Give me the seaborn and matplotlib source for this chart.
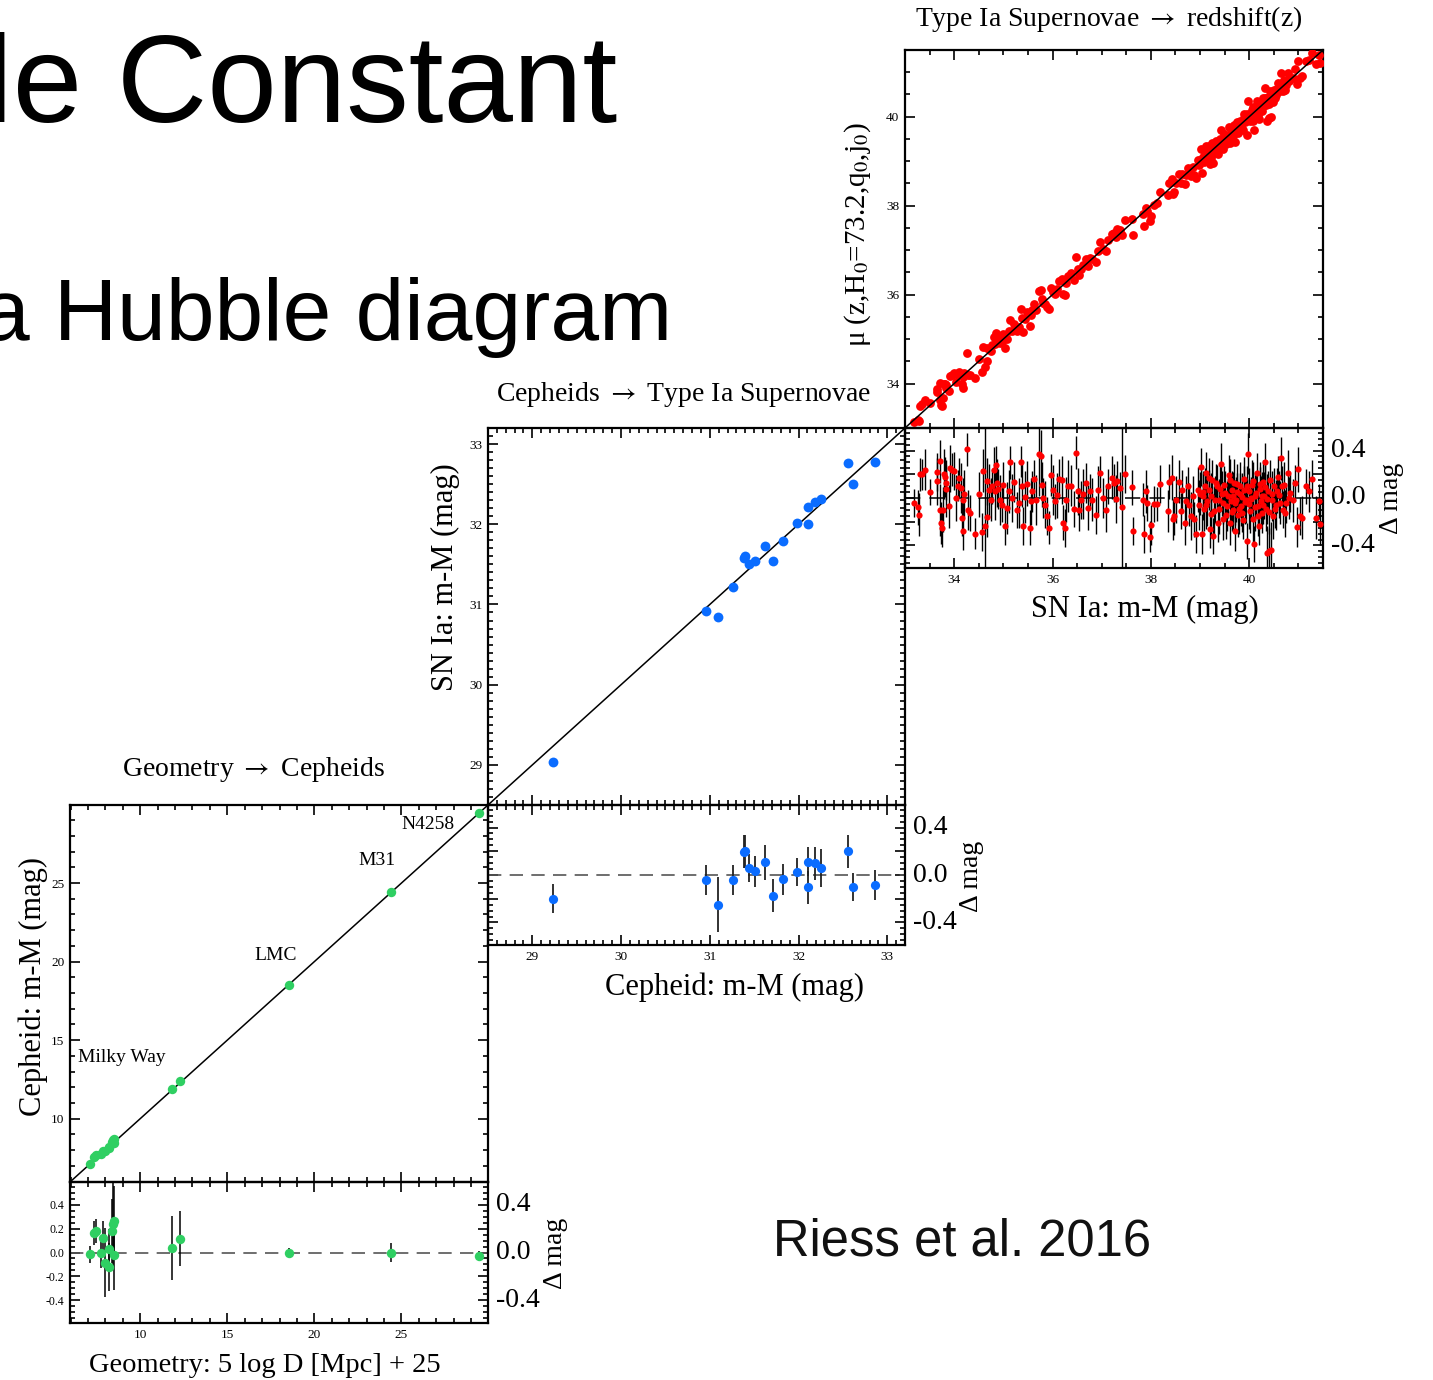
import matplotlib
matplotlib.use("Agg")
import numpy as np
import pandas as pd
import seaborn as sns
import matplotlib.pyplot as plt
from matplotlib.ticker import MultipleLocator, NullFormatter, FormatStrFormatter

# ---------------- data ----------------
# Geometry -> Cepheids (green)
geo_x = [7.10, 7.37, 7.48, 7.77, 7.85, 8.00, 8.19, 8.23, 8.36, 8.43, 8.47, 8.47, 11.84, 12.30, 18.54, 24.42, 29.47]
geo_res = [-0.014, 0.164, 0.178, 0.0, 0.12, -0.086, 0.033, -0.12, 0.178, 0.24, 0.26, -0.025, 0.036, 0.117, 0.0, 0.0, -0.03]
geo_err = [0.07, 0.10, 0.10, 0.13, 0.14, 0.29, 0.16, 0.20, 0.27, 0.35, 0.30, 0.29, 0.27, 0.23, 0.04, 0.08, 0.04]
geo_names = ["Milky Way", "LMC", "M31", "N4258"]
geo_name_x = [8.93, 17.77, 23.57, 26.55]
geo_name_y = [13.89, 20.39, 26.43, 28.72]

# Cepheids -> SN Ia (blue)
ceph_x = [29.23, 30.955, 31.09, 31.26, 31.385, 31.40, 31.445, 31.505, 31.62, 31.71,
          31.83, 31.985, 32.105, 32.11, 32.18, 32.25, 32.56, 32.61, 32.865]
ceph_res = [-0.199, -0.042, -0.249, -0.042, 0.196, 0.20, 0.059, 0.031, 0.106, -0.173,
            -0.036, 0.025, 0.112, -0.103, 0.098, 0.062, 0.20, -0.103, -0.084]
ceph_err = [0.12, 0.13, 0.23, 0.13, 0.14, 0.14, 0.12, 0.13, 0.15, 0.14,
            0.13, 0.12, 0.12, 0.14, 0.14, 0.16, 0.14, 0.12, 0.13]

# SN Ia -> redshift (red)
sn_mu = [33.18, 33.27, 33.29, 33.30, 33.34, 33.40, 33.51, 33.65, 33.66, 33.71,
         33.72, 33.73, 33.75, 33.78, 33.80, 33.82, 33.83, 33.84, 33.90, 33.91,
         33.95, 34.00, 34.03, 34.08, 34.10, 34.14, 34.15, 34.17, 34.18, 34.20,
         34.27, 34.29, 34.32, 34.42, 34.51, 34.56, 34.59, 34.62, 34.66, 34.66,
         34.71, 34.74, 34.77, 34.81, 34.83, 34.85, 34.88, 34.90, 34.93, 34.98,
         35.00, 35.04, 35.08, 35.12, 35.13, 35.17, 35.21, 35.27, 35.31, 35.36,
         35.38, 35.40, 35.44, 35.49, 35.54, 35.56, 35.59, 35.63, 35.67, 35.72,
         35.76, 35.78, 35.81, 35.84, 35.88, 35.93, 35.96, 36.00, 36.05, 36.10,
         36.14, 36.19, 36.22, 36.25, 36.28, 36.32, 36.37, 36.43, 36.47, 36.51,
         36.54, 36.58, 36.62, 36.68, 36.73, 36.76, 36.81, 36.88, 36.92, 36.96,
         37.02, 37.08, 37.12, 37.20, 37.25, 37.30, 37.32, 37.37, 37.42, 37.47,
         37.61, 37.63, 37.83, 37.85, 37.90, 37.93, 37.98, 38.00, 38.07, 38.12,
         38.18, 38.34, 38.37, 38.42, 38.44, 38.47, 38.52, 38.58, 38.61, 38.64,
         38.69, 38.71, 38.75, 38.78, 38.81, 38.85, 38.88, 38.92, 38.95, 38.97,
         39.00, 39.02, 39.04, 39.05, 39.08, 39.10, 39.13, 39.15, 39.19, 39.20,
         39.22, 39.25, 39.27, 39.31, 39.34, 39.36, 39.39, 39.42, 39.44, 39.47,
         39.49, 39.53, 39.56, 39.58, 39.61, 39.63, 39.65, 39.67, 39.69, 39.72,
         39.74, 39.76, 39.78, 39.81, 39.83, 39.85, 39.88, 39.90, 39.92, 39.95,
         39.97, 39.99, 40.01, 40.03, 40.05, 40.08, 40.10, 40.12, 40.15, 40.17,
         40.19, 40.22, 40.24, 40.26, 40.28, 40.31, 40.33, 40.35, 40.37, 40.39,
         40.41, 40.44, 40.46, 40.49, 40.51, 40.54, 40.58, 40.60, 40.64, 40.68,
         40.71, 40.75, 40.78, 40.83, 40.88, 40.94, 40.98, 41.00, 41.03, 41.08,
         41.15, 41.22, 41.28, 41.35, 41.42, 41.43,
         39.05, 39.12, 39.18, 39.23, 39.29, 39.33, 39.38, 39.41, 39.46, 39.51,
         39.55, 39.60, 39.64, 39.68, 39.71, 39.75, 39.79, 39.82, 39.86, 39.89,
         39.93, 39.96, 40.00, 40.04, 40.07, 40.11, 40.14, 40.18, 40.21, 40.25,
         40.29, 40.32, 40.36, 40.40, 40.43, 40.47, 40.52, 40.56, 40.62, 40.66,
         40.72, 40.80]
sn_res = [-0.04, -0.08, -0.14, 0.20, 0.20, 0.24, 0.05, 0.22, 0.14, 0.31,
          -0.10, -0.21, -0.25, -0.10, 0.20, 0.175, 0.08, 0.13, -0.07, 0.25,
          0.24, 0.23, 0.00, 0.105, 0.167, 0.083, -0.17, -0.014, -0.28, 0.036,
          0.41, -0.10, -0.125, -0.30, 0.033, -0.29, 0.23, -0.24, 0.14, -0.16,
          0.064, -0.014, 0.097, 0.236, 0.056, 0.28, 0.125, 0.075, -0.014, -0.056,
          0.11, -0.236, -0.083, 0.056, 0.30, 0.00, 0.133, -0.10, -0.042, 0.306,
          0.103, -0.236, 0.006, 0.12, -0.25, -0.028, 0.056, 0.158, -0.019, 0.37,
          0.35, 0.11, 0.00, -0.056, -0.153, -0.25, 0.194, 0.069, -0.028, 0.022,
          0.158, 0.153, -0.208, -0.25, -0.014, 0.103, 0.105, -0.092, 0.383, 0.056,
          -0.097, -0.014, 0.036, 0.125, -0.083, 0.056, -0.014, -0.144, 0.069, 0.214,
          0.00, -0.097, 0.097, 0.172, 0.13, -0.008, 0.144, 0.083, -0.075, 0.203,
          0.089, -0.28, -0.014, -0.30, 0.056, -0.042, -0.325, -0.23, -0.05, -0.05,
          0.12, -0.11, 0.139, 0.172, -0.18, -0.153, -0.014, 0.139, -0.11, 0.069,
          -0.208, -0.028, 0.103, -0.056, -0.153, 0.019, -0.18, -0.306, 0.069, -0.056,
          0.036, 0.264, -0.306, 0.014, -0.092, 0.103, 0.208, -0.028, 0.069, -0.264,
          -0.139, 0.153, -0.32, -0.014, 0.097, -0.208, -0.092, 0.29, 0.036, -0.042,
          0.111, -0.147, 0.014, 0.194, -0.208, -0.028, 0.069, -0.097, 0.125, -0.278,
          -0.014, 0.047, -0.147, 0.097, -0.064, 0.008, -0.186, 0.158, -0.036, -0.36,
          0.375, 0.056, -0.111, -0.008, 0.111, -0.18, -0.39, 0.019, 0.208, -0.069,
          -0.236, 0.075, -0.028, -0.125, 0.139, 0.019, 0.306, -0.092, -0.46, 0.061,
          -0.45, -0.44, -0.014, -0.153, 0.097, -0.056, 0.18, 0.028, 0.333, -0.097,
          0.111, -0.042, 0.208, 0.042, -0.019, 0.125, -0.242, 0.242, -0.153, -0.167,
          0.097, 0.056, 0.158, -0.167, -0.028, -0.222,
          0.05, -0.06, 0.17, 0.02, -0.11, 0.13, -0.02, 0.08, -0.18, 0.04,
          -0.07, 0.15, -0.12, 0.02, -0.04, 0.12, -0.09, 0.03, -0.13, 0.07,
          -0.02, 0.10, -0.05, 0.00, 0.14, -0.08, 0.04, -0.15, 0.12, 0.02,
          -0.06, 0.09, -0.01, -0.12, 0.15, 0.03, -0.09, 0.06, -0.04, 0.10,
          -0.13, 0.00]
sn_err = [0.12, 0.15, 0.18, 0.14, 0.13, 0.17, 0.11, 0.16, 0.20, 0.18,
          0.22, 0.18, 0.16, 0.19, 0.21, 0.17, 0.24, 0.15, 0.18, 0.20,
          0.14, 0.16, 0.19, 0.13, 0.17, 0.21, 0.15, 0.18, 0.16, 0.20,
          0.14, 0.17, 0.15, 0.13, 0.19, 0.16, 0.18, 1.00, 0.20, 0.17,
          0.22, 0.18, 0.15, 0.19, 0.24, 0.16, 0.20, 0.17, 0.21, 0.15,
          0.19, 0.16, 0.22, 0.18, 0.14, 0.20, 0.17, 0.15, 0.21, 0.13,
          0.18, 0.16, 0.22, 0.19, 0.15, 0.20, 0.17, 0.16, 0.21, 0.35,
          0.22, 0.19, 0.17, 0.20, 0.16, 0.14, 0.18, 0.21, 0.15, 0.19,
          0.17, 0.20, 0.15, 0.16, 0.19, 0.22, 0.17, 0.15, 0.14, 0.20,
          0.18, 0.16, 0.21, 0.17, 0.19, 0.15, 0.18, 0.16, 0.20, 0.14,
          0.17, 0.19, 0.15, 0.18, 0.16, 0.20, 0.17, 0.14, 1.00, 0.16,
          0.15, 0.12, 0.14, 0.16, 0.18, 0.15, 0.13, 0.17, 0.15, 0.14,
          0.16, 0.18, 0.15, 0.19, 0.17, 0.16, 0.20, 0.18, 0.15, 0.17,
          0.19, 0.21, 0.16, 0.18, 0.20, 0.17, 0.15, 0.16, 0.19, 0.21,
          0.18, 0.16, 0.17, 0.20, 0.19, 0.15, 0.18, 0.21, 0.17, 0.16,
          0.19, 0.17, 0.15, 0.20, 0.18, 0.16, 0.21, 0.17, 0.19, 0.18,
          0.16, 0.20, 0.18, 0.17, 0.19, 0.21, 0.16, 0.18, 0.20, 0.17,
          0.19, 0.16, 0.18, 0.21, 0.17, 0.20, 0.16, 0.19, 0.18, 0.15,
          0.17, 0.20, 0.18, 0.16, 0.21, 0.19, 0.15, 0.20, 0.17, 0.18,
          0.16, 0.19, 0.21, 0.17, 0.18, 0.20, 0.16, 0.19, 0.22, 0.17,
          0.20, 0.24, 0.18, 0.19, 0.16, 0.21, 0.17, 0.20, 0.18, 0.16,
          0.19, 0.17, 0.20, 0.16, 0.18, 0.15, 0.17, 0.19, 0.16, 0.18,
          0.15, 0.17, 0.16, 0.18, 0.15, 0.17,
          0.18, 0.20, 0.17, 0.19, 0.21, 0.16, 0.18, 0.20, 0.17, 0.19,
          0.21, 0.18, 0.16, 0.20, 0.19, 0.17, 0.21, 0.18, 0.16, 0.20,
          0.19, 0.17, 0.21, 0.18, 0.16, 0.20, 0.19, 0.17, 0.18, 0.20,
          0.16, 0.19, 0.21, 0.18, 0.17, 0.20, 0.16, 0.19, 0.18, 0.17,
          0.20, 0.18]

n_sn = min(len(sn_mu), len(sn_res), len(sn_err))
sn = pd.DataFrame({"x": sn_mu[:n_sn], "r": sn_res[:n_sn], "e": sn_err[:n_sn]})
sn["y"] = sn["x"] + sn["r"]
geo = pd.DataFrame({"x": geo_x, "r": geo_res, "e": geo_err})
geo["y"] = geo["x"] + geo["r"]
ceph = pd.DataFrame({"x": ceph_x, "r": ceph_res, "e": ceph_err})
ceph["y"] = ceph["x"] + ceph["r"]

# ---------------- style ----------------
sns.set_theme(style="ticks")
plt.rcParams["font.family"] = ["Liberation Serif", "DejaVu Serif"]
plt.rcParams["mathtext.fontset"] = "stix"
plt.rcParams["axes.unicode_minus"] = False
for k in ["text.color", "axes.labelcolor", "xtick.color", "ytick.color", "axes.edgecolor"]:
    plt.rcParams[k] = "black"

GREEN = "#2fcf62"
BLUE = "#0a6cff"
RED = "#ff0000"

W, H = 1433, 1380
fig = plt.figure(figsize=(W / 100, H / 100), dpi=100)
fig.patch.set_facecolor("white")


def px_axes(x0, y0, x1, y1):
    ax = fig.add_axes([x0 / W, 1 - y1 / H, (x1 - x0) / W, (y1 - y0) / H])
    ax.set_facecolor("none")
    return ax


def ftext(x, y, s, **kw):
    fig.text(x / W, 1 - y / H, s, **kw)


def style(ax, xmaj, xmin, ymaj, ymin, xlabels=False, ylabels=True):
    ax.xaxis.set_major_locator(MultipleLocator(xmaj))
    ax.xaxis.set_minor_locator(MultipleLocator(xmin))
    ax.yaxis.set_major_locator(MultipleLocator(ymaj))
    ax.yaxis.set_minor_locator(MultipleLocator(ymin))
    ax.tick_params(which="both", direction="in", top=True, right=True,
                   width=1.2, color="black", labelcolor="black", labelsize=9.5, pad=4)
    ax.tick_params(which="major", length=7)
    ax.tick_params(which="minor", length=3.5)
    for s in ax.spines.values():
        s.set_linewidth(1.6)
        s.set_color("black")
    if not xlabels:
        ax.xaxis.set_major_formatter(NullFormatter())
    if not ylabels:
        ax.yaxis.set_major_formatter(NullFormatter())
    ax.set_xlabel("")
    ax.set_ylabel("")


def resid_right(ax, xpx, ycen):
    for v, s in [(0.4, "0.4"), (0.0, "0.0"), (-0.4, "-0.4")]:
        ax.text(1.02, v, s, transform=ax.get_yaxis_transform(), ha="left",
                va="center", fontsize=20)
    ftext(xpx, ycen, "Δ mag", rotation=90, ha="center", va="center", fontsize=20)


# ---------------- panel 1: Geometry -> Cepheids ----------------
ax1 = px_axes(70, 805, 488, 1182)
r1 = px_axes(70, 1182, 488, 1323)
sns.scatterplot(data=geo, x="x", y="y", ax=ax1, color=GREEN, s=46, linewidth=0, zorder=3)
ax1.axline((0, 0), slope=1, color="black", lw=1.1, zorder=2)
ax1.set_xlim(5.97, 29.97)
ax1.set_ylim(5.97, 29.97)
style(ax1, 5, 1, 5, 1, xlabels=False, ylabels=True)
for nm, tx, ty in zip(geo_names, geo_name_x, geo_name_y):
    ax1.text(tx, ty, nm, ha="center", va="center", fontsize=14)

r1.errorbar(geo["x"], geo["r"], yerr=geo["e"], fmt="none", ecolor="black", elinewidth=1.1, zorder=2)
sns.scatterplot(data=geo, x="x", y="r", ax=r1, color=GREEN, s=46, linewidth=0, zorder=3)
r1.axhline(0, color="#555555", lw=1.2, ls=(0, (8, 5)), zorder=1)
r1.set_xlim(5.97, 29.97)
r1.set_ylim(-0.59, 0.59)
style(r1, 5, 1, 0.2, 0.05, xlabels=True, ylabels=True)
r1.yaxis.set_major_formatter(FormatStrFormatter("%.1f"))
r1.tick_params(axis="y", labelsize=8.5)
resid_right(r1, 555, 1253)

# ---------------- panel 2: Cepheids -> SN Ia ----------------
ax2 = px_axes(488, 428, 905, 805)
r2 = px_axes(488, 805, 905, 945)
sns.scatterplot(data=ceph, x="x", y="y", ax=ax2, color=BLUE, s=50, linewidth=0, zorder=3)
ax2.axline((0, 0), slope=1, color="black", lw=1.1, zorder=2)
ax2.set_xlim(28.5, 33.2)
ax2.set_ylim(28.5, 33.2)
style(ax2, 1, 0.1, 1, 0.1, xlabels=False, ylabels=True)

r2.errorbar(ceph["x"], ceph["r"], yerr=ceph["e"], fmt="none", ecolor="#222222", elinewidth=1.3, zorder=2)
sns.scatterplot(data=ceph, x="x", y="r", ax=r2, color=BLUE, s=44, linewidth=0, zorder=3)
r2.axhline(0, color="#555555", lw=1.2, ls=(0, (8, 5)), zorder=1)
r2.set_xlim(28.5, 33.2)
r2.set_ylim(-0.59, 0.59)
style(r2, 1, 0.1, 0.2, 0.05, xlabels=True, ylabels=False)
resid_right(r2, 972, 876)

# ---------------- panel 3: SN Ia -> redshift ----------------
ax3 = px_axes(905, 50, 1323, 428)
r3 = px_axes(905, 428, 1323, 568)
sns.scatterplot(data=sn, x="x", y="y", ax=ax3, color=RED, s=40, linewidth=0, zorder=3)
ax3.axline((0, 0), slope=1, color="black", lw=1.1, zorder=4)
ax3.set_xlim(33.0, 41.5)
ax3.set_ylim(33.0, 41.5)
style(ax3, 2, 0.5, 2, 0.5, xlabels=False, ylabels=True)

r3.errorbar(sn["x"], sn["r"], yerr=sn["e"], fmt="none", ecolor="black", elinewidth=1.0, zorder=2)
r3.axhline(0, color="black", lw=1.1, ls=(0, (10, 6)), zorder=2)
sns.scatterplot(data=sn, x="x", y="r", ax=r3, color=RED, s=20, linewidth=0, zorder=3)
r3.set_xlim(33.0, 41.5)
r3.set_ylim(-0.59, 0.59)
style(r3, 2, 0.5, 0.2, 0.05, xlabels=True, ylabels=False)
resid_right(r3, 1392, 498)

# ---------------- titles and axis labels ----------------
ARROW = r" $\rightarrow$ "
ftext(253, 769, "Geometry" + ARROW + "Cepheids", ha="center", va="center", fontsize=20)
ftext(684, 395, "Cepheids" + ARROW + "Type Ia Supernovae", ha="center", va="center", fontsize=20)
ftext(1109, 19, "Type Ia Supernovae" + ARROW + "redshift(z)", ha="center", va="center", fontsize=20)

ftext(33, 987, "Cepheid: m-M (mag)", rotation=90, ha="center", va="center", fontsize=22)
ftext(445, 577, "SN Ia: m-M (mag)", rotation=90, ha="center", va="center", fontsize=22)
ftext(858, 235, "μ (z,H$_\\mathrm{0}$=73.2,q$_\\mathrm{0}$,j$_\\mathrm{0}$)", rotation=90,
      ha="center", va="center", fontsize=21)

ftext(265, 1365, "Geometry: 5 log D [Mpc] + 25", ha="center", va="center", fontsize=20.5)
ftext(735, 987, "Cepheid: m-M (mag)", ha="center", va="center", fontsize=22)
ftext(1145, 609, "SN Ia: m-M (mag)", ha="center", va="center", fontsize=22)

# ---------------- slide text ----------------
SANS = ["Liberation Sans", "DejaVu Sans"]
ftext(617, 122, "le Constant", ha="right", va="baseline", fontsize=90, family=SANS, color="black")
ftext(672, 340, "a Hubble diagram", ha="right", va="baseline", fontsize=63, family=SANS, color="black")
ftext(773, 1255, "Riess et al. 2016", ha="left", va="baseline", fontsize=36.5, family=SANS, color="#111111")

fig.savefig("out.png", dpi=100, facecolor="white")
